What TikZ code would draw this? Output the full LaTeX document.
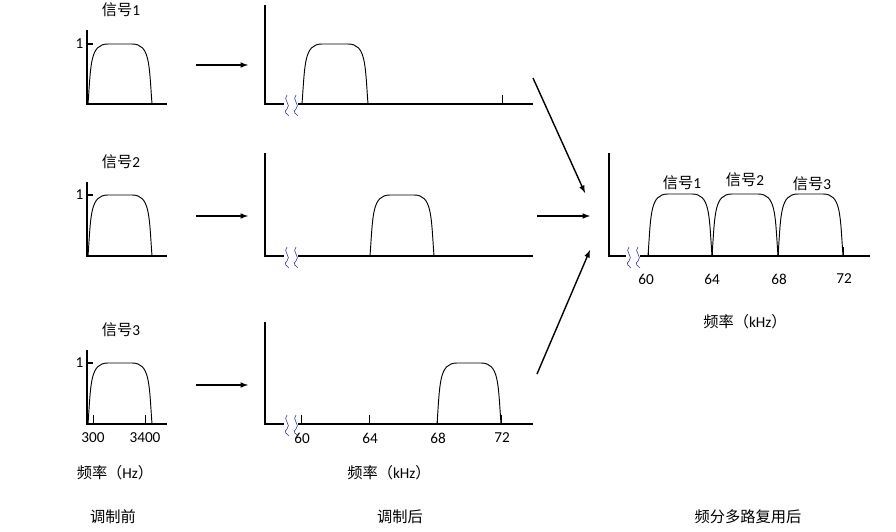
\documentclass[tikz,border=0pt]{standalone}
\usepackage{fontspec}
\setmainfont{Carlito}
\newfontfamily\cjk{Noto Sans CJK SC}
\usetikzlibrary{positioning}
\tikzstyle{axis}=[line width=1.2pt, draw=black]
\tikzstyle{curve}=[line width=0.8pt, draw=black]
\tikzstyle{flow}=[-latex, line width=1.2pt, draw=black]
\tikzstyle{lbl}=[font=\fontsize{13}{15}\selectfont, inner sep=0pt]
\tikzstyle{brk}=[draw=blue!60!gray, line width=0.5pt]
\newcommand{\bump}[4]{\draw [style=curve] (#1,#3) .. controls (#1+3,#4+20) and (#1+2,#4) .. (#1+20,#4) -- (#2-20,#4) .. controls (#2-2,#4) and (#2-3,#4+20) .. (#2,#3);}
\newcommand{\squig}[2]{\draw [style=brk] (#1,#2-9) .. controls (#1-5,#2-5) and (#1+5,#2+1) .. (#1,#2+5) .. controls (#1-4,#2+8) and (#1,#2+10) .. (#1+2,#2+12);}
\begin{document}
\begin{tikzpicture}[x=0.03cm, y=-0.03cm]
    \useasboundingbox (0,0) rectangle (896,531);
    % left column
    \foreach \b/\t/\n/\ly in {104/44/1/10, 256/195/2/162, 424/363/3/330} {
        \draw [style=axis] (87,\b-74) -- (87,\b) -- (167,\b);
        \draw [style=axis] (87,\t) -- (93,\t);
        \node [style=lbl, left=3pt] at (87,\t) {1};
        \node [style=lbl] at (121,\ly) {{\cjk 信号}\n};
        \bump{88}{152}{\b}{\t}
    }
    \draw [style=curve] (93,424) -- (93,415);
    \draw [style=curve] (145,424) -- (145,415);
    \node [style=lbl] (f300) at (93,438) {300};
    \node [style=lbl] (f3400) at (145,438) {3400};
    \node [style=lbl] (hzL) at (115,473) {{\cjk 频率（}Hz{\cjk ）}};
    \node [style=lbl] (preL) at (113,517) {\cjk 调制前};
    % arrows left to middle
    \foreach \y in {65, 216, 385} {
        \coordinate (s\y) at (196,\y);
        \coordinate (e\y) at (248,\y);
        \draw [style=flow] (s\y) -- (e\y);
    }
    % middle column
    \draw [style=axis] (265,5) -- (265,104) -- (533,104);
    \draw [style=axis] (265,153) -- (265,256) -- (533,256);
    \draw [style=axis] (265,322) -- (265,424) -- (533,424);
    \foreach \b in {104, 256, 424} {
        \fill [white] (284,\b-3) rectangle (298,\b+3);
        \squig{287}{\b}
        \squig{296}{\b}
    }
    \bump{302}{368}{104}{44}
    \draw [style=curve] (502,104) -- (502,95);
    \bump{370}{434}{256}{195}
    \bump{437}{501}{424}{363}
    \foreach \x/\v in {301/60, 369/64, 437/68, 501/72} {
        \draw [style=curve] (\x,424) -- (\x,415);
        \node [style=lbl] (m\v) at (\x+1,438) {\v};
    }
    \node [style=lbl] (khzM) at (389,473) {{\cjk 频率（}kHz{\cjk ）}};
    \node [style=lbl] (postM) at (400,517) {\cjk 调制后};
    % arrows middle to right
    \coordinate (a1) at (533,78);  \coordinate (b1) at (585,193);
    \coordinate (a2) at (537,216); \coordinate (b2) at (590,216);
    \coordinate (a3) at (537,374); \coordinate (b3) at (590,250);
    \draw [style=flow] (a1) -- (b1);
    \draw [style=flow] (a2) -- (b2);
    \draw [style=flow] (a3) -- (b3);
    % right graph
    \draw [style=axis] (609,153) -- (609,256) -- (870,256);
    \fill [white] (626,253) rectangle (640,259);
    \squig{629}{256}
    \squig{638}{256}
    \bump{648}{712}{256}{194}
    \bump{712}{778}{256}{194}
    \bump{778}{843}{256}{194}
    \foreach \x in {648, 712, 778, 843} {
        \draw [style=curve] (\x,256) -- (\x,247);
    }
    \node [style=lbl] (r1) at (682,183) {{\cjk 信号}1};
    \node [style=lbl] (r2) at (745,180) {{\cjk 信号}2};
    \node [style=lbl] (r3) at (812,184) {{\cjk 信号}3};
    \foreach \x/\v in {646/60, 712/64, 779/68, 844/72} {
        \node [style=lbl] (t\v) at (\x,279) {\v};
    }
    \node [style=lbl] (khzR) at (745,322) {{\cjk 频率（}kHz{\cjk ）}};
    \node [style=lbl] (postR) at (748,517) {\cjk 频分多路复用后};
\end{tikzpicture}
\end{document}
